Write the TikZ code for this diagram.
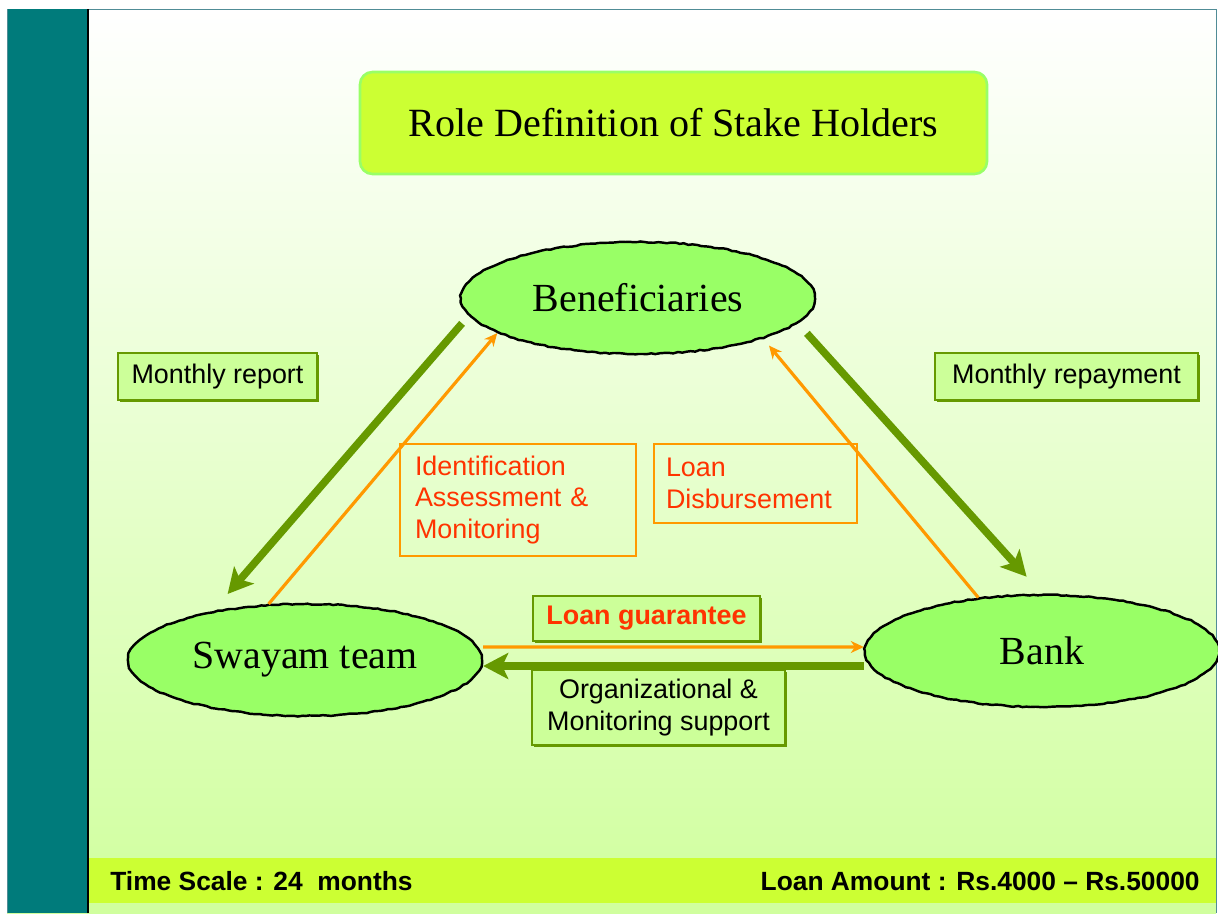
\documentclass[tikz,border=0pt]{standalone}
\usepackage{fontspec}
\setmainfont{Liberation Serif}
\setsansfont{Liberation Sans}
\usetikzlibrary{arrows.meta,shapes.geometric,shadows,decorations.pathmorphing}
\definecolor{slideteal}{RGB}{0,123,123}
\definecolor{frameline}{RGB}{80,140,150}
\definecolor{lime}{RGB}{204,255,51}
\definecolor{palegreen}{RGB}{153,255,102}
\definecolor{boxfill}{RGB}{204,255,153}
\definecolor{leaf}{RGB}{102,153,0}
\definecolor{amber}{RGB}{255,153,0}
\definecolor{redtext}{RGB}{255,51,0}
\definecolor{bgbottom}{RGB}{208,255,158}
\pgfmathsetseed{7}

\begin{document}
\begin{tikzpicture}[
    holder/.style={ellipse, draw=black, line width=1.4pt, fill=palegreen,
      decorate, decoration={random steps, segment length=2.5pt, amplitude=0.35pt},
      minimum width=7.08cm, minimum height=2.24cm, inner sep=0pt,
      font=\fontsize{22.7}{27}\selectfont},
    tag/.style={rectangle, draw=leaf, line width=1.4pt, fill=boxfill, inner sep=0pt,
      drop shadow={shadow xshift=0.9pt, shadow yshift=-0.9pt, fill=leaf, opacity=1},
      font=\sffamily\fontsize{15.3}{18}\selectfont},
    note/.style={rectangle, draw=amber, line width=1.5pt, text=redtext, align=left,
      inner ysep=0pt, font=\sffamily\fontsize{15.3}{18}\selectfont},
    thickarrow/.style={leaf, line width=4.3pt, -{Stealth[length=0.5cm, width=0.52cm, inset=0.12cm]}},
    thinarrow/.style={amber, line width=1.8pt, -{Stealth[length=0.26cm, width=0.24cm]}},
    footer/.style={inner sep=0pt, font=\sffamily\bfseries\fontsize{15}{18}\selectfont}
  ]
  \useasboundingbox (0,0) rectangle (24.36,18.26);
  \shade[top color=white, bottom color=bgbottom] (0.14,0) rectangle (24.32,18.08);
  \draw[frameline, line width=0.5pt] (0.14,0) -- (0.14,18.08) -- (24.32,18.08) -- (24.32,0);
  \fill[slideteal] (0.16,0) rectangle (1.76,18.08);
  \draw[black, line width=1pt] (1.76,0) -- (1.76,18.08);
  \fill[lime] (1.78,0.20) rectangle (24.32,1.10);

  \node[rounded corners=0.25cm, draw=palegreen, line width=1.5pt, fill=lime,
    minimum width=12.54cm, minimum height=2.04cm, font=\fontsize{22.8}{27}\selectfont]
    (title) at (13.47,15.80) {Role Definition of Stake Holders};

  \node[holder] (ben) at (12.76,12.30) {Beneficiaries};
  \node[holder] (sway) at (6.10,5.06) {Swayam team};
  \node[holder] (bank) at (20.84,5.24) {Bank};

  \node[tag, minimum width=3.98cm, minimum height=0.94cm] (report) at (4.35,10.73) {Monthly report};
  \node[tag, minimum width=5.26cm, minimum height=0.94cm] (repay) at (21.33,10.73) {Monthly repayment};
  \node[note, minimum width=4.72cm, minimum height=2.24cm, text width=4.12cm, inner xsep=0.3cm]
    (ident) at (10.36,8.26) {Identification\\Assessment \&\\Monitoring};
  \node[note, minimum width=4.06cm, minimum height=1.58cm, text width=3.58cm, inner xsep=0.24cm]
    (disb) at (15.11,8.59) {Loan\\Disbursement};
  \node[tag, minimum width=4.54cm, minimum height=0.90cm, text=redtext,
    font=\sffamily\bfseries\fontsize{15.3}{18}\selectfont] (guar) at (12.93,5.89) {Loan guarantee};
  \node[tag, minimum width=5.06cm, minimum height=1.50cm, align=center]
    (support) at (13.17,4.11) {Organizational \&\\Monitoring support};

  \draw[thickarrow, shorten <=0.2cm, shorten >=0.45cm] (ben.186) -- (sway.152);
  \draw[thinarrow] (sway.123) -- (ben.194);
  \draw[thickarrow, shorten <=0.27cm, shorten >=0.46cm] (ben.351) -- (bank.north);
  \draw[thinarrow, shorten >=0.18cm] (bank.140) -- (ben.342);
  \draw[thinarrow] ([yshift=0.26cm]sway.east) -- ([yshift=0.08cm]bank.west);
  \draw[thickarrow] ([yshift=-0.30cm]bank.west) -- ([yshift=-0.12cm]sway.east);

  \node[footer, anchor=base west] (scale) at (2.2,0.46) {Time Scale : 24\ \ months};
  \node[footer, anchor=base east] (amount) at (24.0,0.46) {Loan Amount : Rs.4000 – Rs.50000};
\end{tikzpicture}
\end{document}
